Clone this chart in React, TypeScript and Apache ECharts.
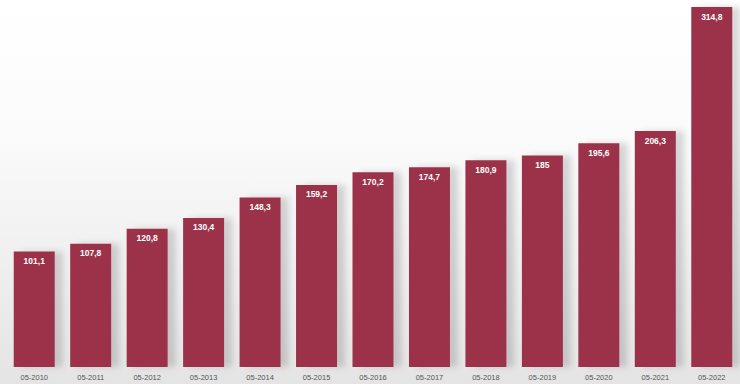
import React, { useEffect, useRef } from "react";
import * as echarts from "echarts";

const categories = ["05-2010", "05-2011", "05-2012", "05-2013", "05-2014", "05-2015", "05-2016", "05-2017", "05-2018", "05-2019", "05-2020", "05-2021", "05-2022"];
const values = [101.1, 107.8, 120.8, 130.4, 148.3, 159.2, 170.2, 174.7, 180.9, 185, 195.6, 206.3, 314.8];

export default function App() {
  const ref = useRef<HTMLDivElement>(null);
  useEffect(() => {
    if (!ref.current) return;
    const chart = echarts.init(ref.current, undefined, { renderer: "svg" });
    chart.setOption({
      animation: false,
      backgroundColor: new echarts.graphic.LinearGradient(0, 0, 0, 1, [
        { offset: 0, color: "#ffffff" },
        { offset: 0.35, color: "#fbfbfb" },
        { offset: 1, color: "#e4e4e4" },
      ]),
      grid: { left: 6, right: -1, top: 7, bottom: 17, containLabel: false },
      xAxis: {
        type: "category",
        data: categories,
        axisLine: { show: false },
        axisTick: { show: false },
        axisLabel: {
          color: "#555555",
          fontSize: 7.5,
          fontFamily: "Liberation Sans Narrow, Liberation Sans",
          margin: 6,
        },
      },
      yAxis: {
        type: "value",
        min: 0,
        max: 314.8,
        show: false,
        splitLine: { show: false },
      },
      series: [
        {
          type: "bar",
          data: values,
          barWidth: 41,
          itemStyle: {
            color: "#9b3249",
            shadowColor: "rgba(0,0,0,0.15)",
            shadowBlur: 6,
            shadowOffsetX: 8,
            shadowOffsetY: 0,
          },
          label: {
            show: true,
            position: "insideTop",
            distance: 5,
            color: "#ffffff",
            fontSize: 8.5,
            fontWeight: "bold",
            fontFamily: "Liberation Sans",
            formatter: (p: any) => String(p.value).replace(".", ","),
          },
        },
      ],
    });
    return () => chart.dispose();
  }, []);
  return <div ref={ref} style={{ width: 740, height: 384, position: "absolute", left: 0, top: 0 }} />;
}
